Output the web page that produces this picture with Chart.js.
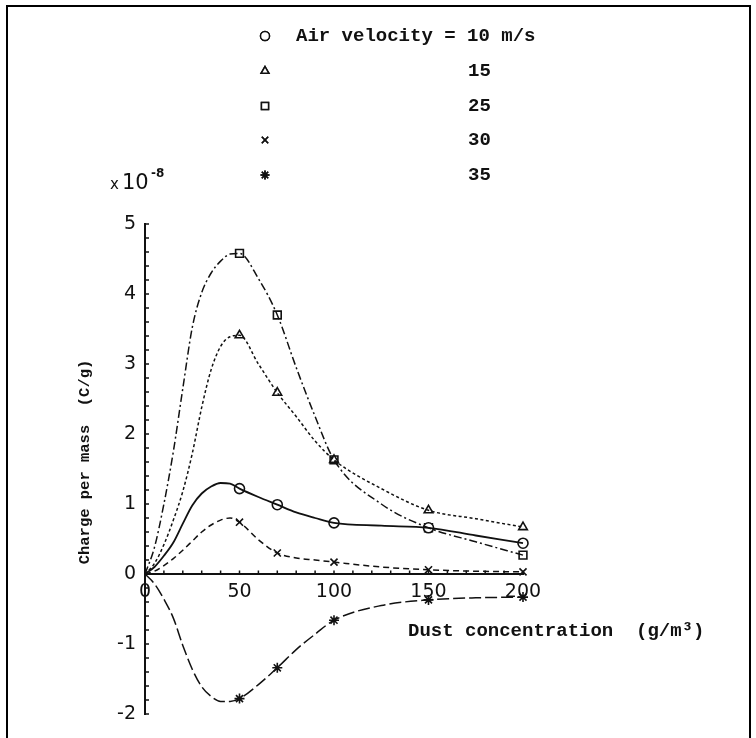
<!DOCTYPE html>
<html><head><meta charset="utf-8">
<script src="https://cdn.jsdelivr.net/npm/chart.js@4/dist/chart.umd.min.js"></script>
<style>html,body{margin:0;padding:0;background:#fff}#wrap{width:756px;height:738px;position:relative}</style>
</head><body><div id="wrap"><canvas id="c"></canvas></div>
<script>
// ---- data ----
const seriesLabels = ['Air velocity = 10 m/s', '15', '25', '30', '35'];
const markerX = [50, 70, 100, 150, 200];
const marks10 = [1.22, 0.99, 0.73, 0.66, 0.44];
const marks15 = [3.41, 2.59, 1.63, 0.91, 0.67];
const marks25 = [4.58, 3.70, 1.63, 0.66, 0.27];
const marks30 = [0.74, 0.30, 0.17, 0.06, 0.03];
const marks35 = [-1.78, -1.34, -0.66, -0.37, -0.33];
const curveX  = [0, 5, 10, 15, 20, 25, 30, 35, 40, 45, 50, 60, 70, 80, 90, 100, 125, 150, 175, 200];
const curve10 = [0, 0.10, 0.26, 0.45, 0.72, 0.98, 1.15, 1.25, 1.30, 1.29, 1.22, 1.10, 0.99, 0.88, 0.80, 0.73, 0.69, 0.66, 0.55, 0.44];
const curve15 = [0, 0.15, 0.42, 0.77, 1.18, 1.72, 2.38, 2.92, 3.25, 3.39, 3.41, 3.00, 2.59, 2.25, 1.90, 1.63, 1.22, 0.91, 0.79, 0.67];
const curve25 = [0, 0.38, 1.00, 1.75, 2.65, 3.52, 4.02, 4.30, 4.47, 4.57, 4.58, 4.22, 3.70, 2.95, 2.25, 1.63, 1.00, 0.66, 0.46, 0.27];
const curve30 = [0, 0.04, 0.12, 0.22, 0.34, 0.47, 0.60, 0.70, 0.77, 0.80, 0.74, 0.49, 0.30, 0.23, 0.20, 0.17, 0.10, 0.06, 0.04, 0.03];
const curve35 = [0, -0.14, -0.36, -0.63, -1.02, -1.36, -1.61, -1.75, -1.82, -1.82, -1.78, -1.58, -1.34, -1.08, -0.86, -0.66, -0.45, -0.37, -0.34, -0.33];
const xTickLabels = ['0', '50', '100', '150', '200'];
const yTickLabels = ['-2', '-1', '0', '1', '2', '3', '4', '5'];
const xTitle = 'Dust concentration  (g/m\u00B3)';
const yTitle = 'Charge per mass  (C/g)';
const expBase = '10', expPow = '-8';

// ---- styles ----
const styles = [
  {pt: 'circle',   dash: [],            w: 1.8},
  {pt: 'triangle', dash: [3, 2.5],      w: 1.5},
  {pt: 'rect',     dash: [8, 3, 2, 3],  w: 1.5},
  {pt: 'crossRot', dash: [6, 4],        w: 1.5},
  {pt: 'star',     dash: [12, 4],       w: 1.5}
];
const INK = '#111';
const curves = [curve10, curve15, curve25, curve30, curve35];
const marks = [marks10, marks15, marks25, marks30, marks35];

const datasets = [];
curves.forEach((c, i) => {
  datasets.push({
    label: seriesLabels[i] + ' curve',
    data: curveX.map((x, k) => ({x: x, y: c[k]})),
    showLine: true, pointRadius: 0, pointHoverRadius: 0, clip: false,
    borderColor: INK, borderWidth: styles[i].w, borderDash: styles[i].dash,
    cubicInterpolationMode: 'monotone', fill: false
  });
});
marks.forEach((m, i) => {
  datasets.push({
    label: seriesLabels[i],
    data: markerX.map((x, k) => ({x: x, y: m[k]})),
    showLine: false, pointStyle: styles[i].pt, clip: false,
    pointRadius: styles[i].pt === 'rect' ? 5.5 : 5, pointBorderWidth: 1.6,
    pointBorderColor: INK, pointBackgroundColor: '#fff'
  });
});

function drawMarker(ctx, style, x, y, r) {
  if (Chart.helpers && Chart.helpers.drawPoint) {
    Chart.helpers.drawPoint(ctx, {pointStyle: style, radius: r, borderWidth: 1.5, rotation: 0}, x, y);
    ctx.fill(); ctx.stroke();
  }
}

const deco = {
  id: 'deco',
  beforeDraw(chart) {
    const ctx = chart.ctx;
    ctx.save();
    ctx.fillStyle = '#fff';
    ctx.fillRect(0, 0, chart.width, chart.height);
    ctx.strokeStyle = '#000';
    ctx.lineWidth = 2;
    ctx.strokeRect(7, 6, 743, 760);
    ctx.restore();
  },
  afterDraw(chart) {
    const ctx = chart.ctx, xs = chart.scales.x, ys = chart.scales.y;
    const x0 = xs.getPixelForValue(0), y0 = ys.getPixelForValue(0);
    ctx.save();
    ctx.strokeStyle = INK; ctx.lineWidth = 1.5; ctx.setLineDash([]);
    // minor ticks on y axis (inside, every 0.2)
    for (let i = -10; i <= 25; i++) {
      const py = ys.getPixelForValue(i / 5);
      ctx.beginPath(); ctx.moveTo(x0, py); ctx.lineTo(x0 + 4, py); ctx.stroke();
    }
    // minor ticks on x axis (inside, every 10)
    for (let i = 0; i <= 20; i++) {
      const px = xs.getPixelForValue(i * 10);
      ctx.beginPath(); ctx.moveTo(px, y0); ctx.lineTo(px, y0 - 3.5); ctx.stroke();
    }
    ctx.fillStyle = INK;
    // axis titles
    ctx.font = 'bold 15.5px "Liberation Mono"';
    ctx.textAlign = 'center'; ctx.textBaseline = 'middle';
    ctx.save(); ctx.translate(85, 462); ctx.rotate(-Math.PI / 2); ctx.fillText(yTitle, 0, 0); ctx.restore();
    ctx.font = 'bold 19px "Liberation Mono"';
    ctx.textAlign = 'left';
    ctx.fillText(xTitle, 408, 631);
    // exponent
    ctx.font = '15px "DejaVu Sans"';
    ctx.fillText('x', 110, 185);
    ctx.font = '21px "DejaVu Sans"';
    ctx.fillText(expBase, 122, 184);
    ctx.font = 'bold 12px "DejaVu Sans"';
    ctx.fillText(expPow, 151, 174);
    // legend
    const rows = [36, 71, 106, 140, 175];
    ctx.font = 'bold 19px "Liberation Mono"';
    ctx.textBaseline = 'middle';
    styles.forEach((s, i) => {
      ctx.save();
      ctx.strokeStyle = INK; ctx.fillStyle = '#fff'; ctx.lineWidth = 1.5;
      drawMarker(ctx, s.pt, 265, rows[i], s.pt === 'rect' ? 5 : 4.5);
      ctx.restore();
      ctx.fillStyle = INK;
      ctx.fillText(seriesLabels[i], i === 0 ? 296 : 468, rows[i]);
    });
    ctx.restore();
  }
};

new Chart(document.getElementById('c'), {
  type: 'scatter',
  data: {datasets: datasets},
  plugins: [deco],
  options: {
    responsive: true, maintainAspectRatio: false, animation: false,
    layout: {padding: {left: 95, right: 233, top: 224, bottom: 24}},
    plugins: {legend: {display: false}, tooltip: {enabled: false}},
    scales: {
      x: {
        type: 'linear', position: {y: 0}, min: 0, max: 200,
        afterFit: s => { s.height = 0; },
        afterBuildTicks: s => { s.ticks = xTickLabels.map(v => ({value: Number(v)})); },
        ticks: {padding: 7, color: INK, font: {family: 'DejaVu Sans', size: 19}, maxRotation: 0, autoSkip: false,
                callback: (v) => xTickLabels.find(t => Number(t) === v)},
        grid: {display: false, drawTicks: false},
        border: {display: true, color: INK, width: 2}
      },
      y: {
        type: 'linear', position: 'left', min: -2, max: 5,
        afterFit: s => { s.width = 50; },
        afterBuildTicks: s => { s.ticks = yTickLabels.map(v => ({value: Number(v)})); },
        ticks: {padding: 9, color: INK, font: {family: 'DejaVu Sans', size: 19}, autoSkip: false,
                callback: (v) => yTickLabels.find(t => Number(t) === v)},
        grid: {display: false, drawTicks: false},
        border: {display: true, color: INK, width: 2}
      }
    }
  }
});
</script></body></html>
